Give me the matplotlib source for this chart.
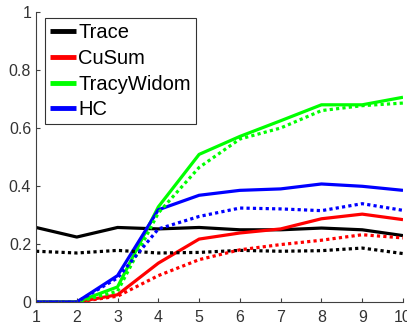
import matplotlib
matplotlib.use("Agg")
import matplotlib.pyplot as plt

x = [1, 2, 3, 4, 5, 6, 7, 8, 9, 10]
trace_solid = [0.257, 0.224, 0.257, 0.252, 0.257, 0.249, 0.249, 0.255, 0.249, 0.229]
trace_dot = [0.175, 0.169, 0.178, 0.169, 0.171, 0.178, 0.175, 0.177, 0.186, 0.167]
cusum_solid = [0.0, 0.0, 0.025, 0.134, 0.217, 0.238, 0.252, 0.287, 0.303, 0.284]
cusum_dot = [0.0, 0.0, 0.020, 0.091, 0.146, 0.180, 0.198, 0.213, 0.232, 0.221]
tw_solid = [0.0, 0.0, 0.052, 0.328, 0.509, 0.571, 0.625, 0.680, 0.680, 0.706]
tw_dot = [0.0, 0.0, 0.037, 0.307, 0.464, 0.562, 0.600, 0.660, 0.677, 0.686]
hc_solid = [0.0, 0.0, 0.091, 0.318, 0.368, 0.385, 0.390, 0.407, 0.399, 0.385]
hc_dot = [0.0, 0.0, 0.083, 0.252, 0.295, 0.324, 0.321, 0.315, 0.339, 0.316]

labels = ["Trace", "CuSum", "TracyWidom", "HC"]
colors = ["#000000", "#ff0000", "#00ff00", "#0000ff"]
yticks = [0, 0.2, 0.4, 0.6, 0.8, 1]
ytick_labels = ["0", "0.2", "0.4", "0.6", "0.8", "1"]

plt.rcParams["font.family"] = ["Liberation Sans", "DejaVu Sans"]

fig = plt.figure(figsize=(4.07, 3.22), dpi=100)
ax = fig.add_axes([36/407, 20/322, 367/407, 290/322])

solids = [trace_solid, cusum_solid, tw_solid, hc_solid]
dots = [trace_dot, cusum_dot, tw_dot, hc_dot]
lw = 2.3
handles = []
for s, lab, c in zip(solids, labels, colors):
    h, = ax.plot(x, s, color=c, lw=lw, label=lab, solid_capstyle="butt")
    handles.append(h)
for d, c in zip(dots, colors):
    ax.plot(x, d, color=c, lw=lw, linestyle=(0, (1, 1)), dash_capstyle="butt")

ax.set_xlim(1, 10)
ax.set_ylim(0, 1)
ax.set_xticks(x)
ax.set_yticks(yticks)
ax.set_yticklabels(ytick_labels)
for sp in ["top", "right"]:
    ax.spines[sp].set_visible(False)
for sp in ["left", "bottom"]:
    ax.spines[sp].set_color("#404040")
    ax.spines[sp].set_linewidth(0.8)
ax.tick_params(direction="in", length=3, width=0.8, colors="#404040",
               labelsize=11.5, labelcolor="#333333")
ax.tick_params(axis="x", pad=6)

leg = ax.legend(handles=handles, loc="upper left", bbox_to_anchor=(0.0245, 0.978),
                fontsize=14.5, frameon=True, fancybox=False, edgecolor="black",
                handlelength=1.3, handletextpad=0.1, borderpad=0.25,
                labelspacing=0.33, borderaxespad=0)
leg.get_frame().set_linewidth(0.8)
for l in leg.get_lines():
    l.set_linewidth(3.5)

fig.savefig("out.png", dpi=100)
